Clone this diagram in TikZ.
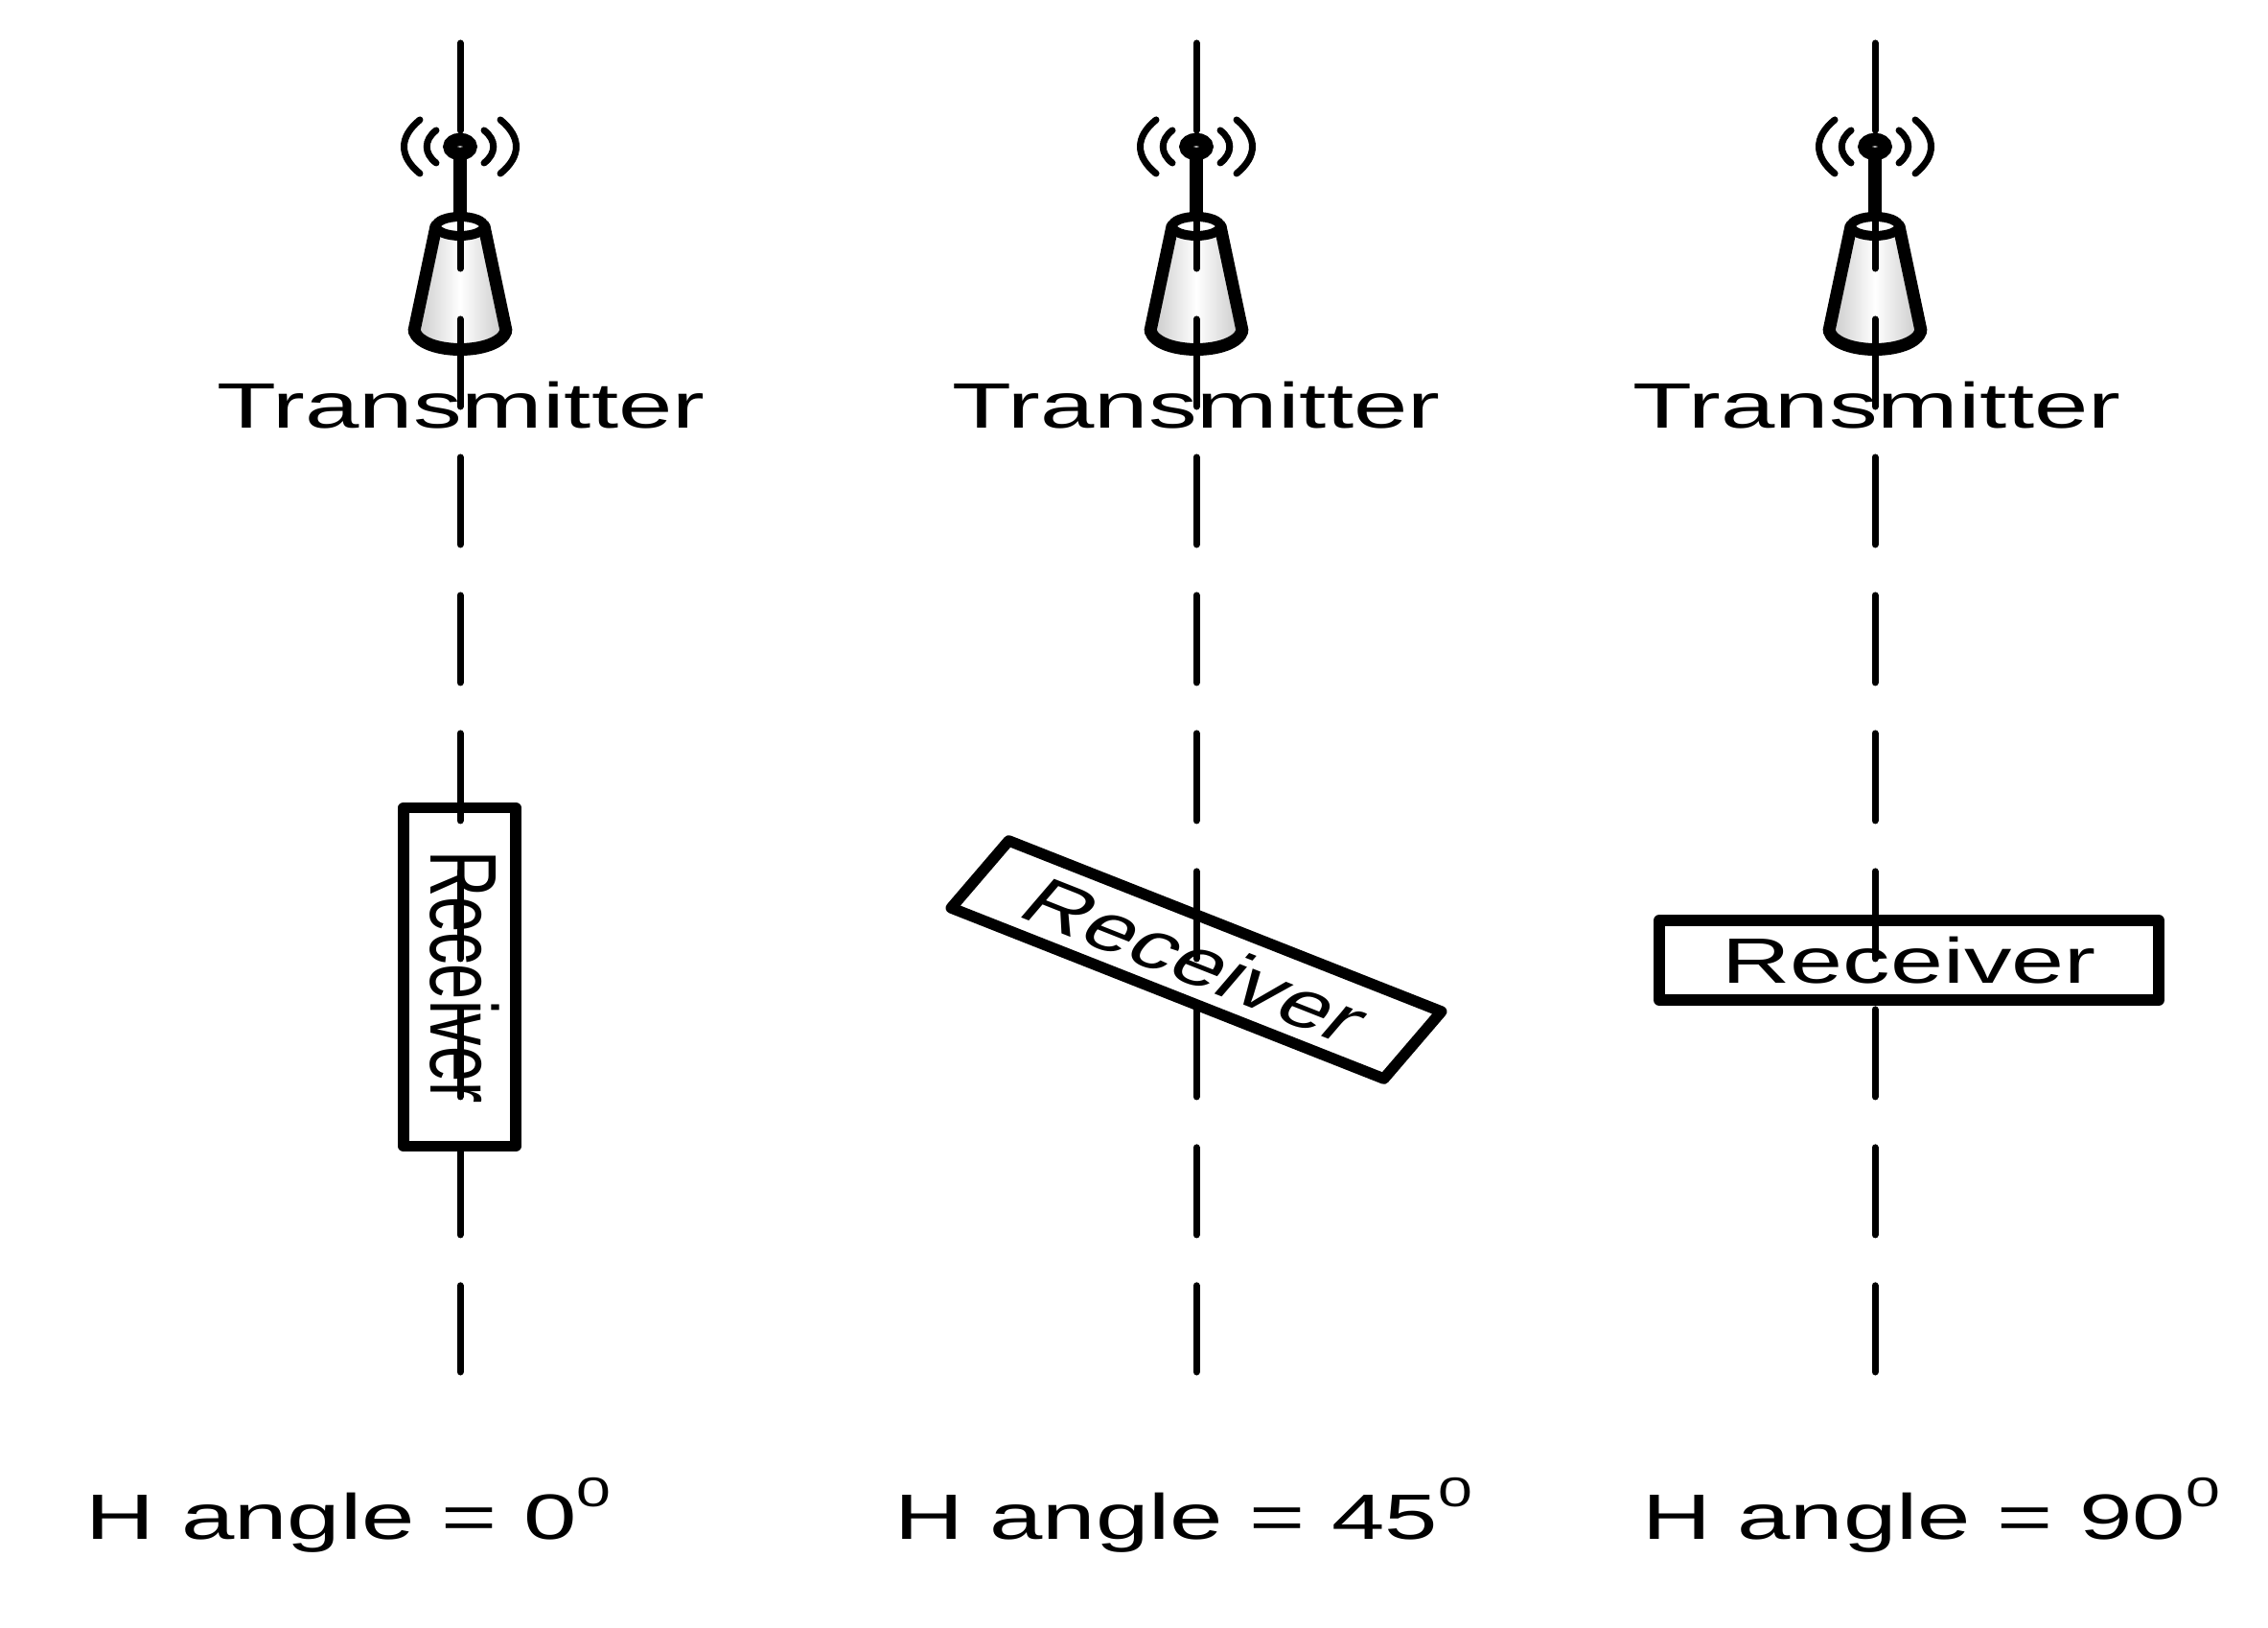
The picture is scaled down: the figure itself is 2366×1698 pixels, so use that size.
\documentclass[tikz,border=0pt]{standalone}
\usepackage{fontspec}
\setmainfont{Liberation Sans}
\usetikzlibrary{positioning}
\newcommand{\anglesup}[1]{\raisebox{9.4pt}{\fontsize{12.3}{14}\selectfont #1}}

\begin{document}
\begin{tikzpicture}[x=0.01cm,y=-0.01cm]
	\tikzset{txlabel/.style = {font=\fontsize{19}{23}\selectfont, inner sep = 0pt, transform shape}}
	\tikzset{anglelabel/.style = {txlabel, anchor=base west}}
	\tikzset{rxbox/.style = {shape=rectangle, draw, line width=0.115cm, line join=round,
			font=\fontsize{19}{23}\selectfont, inner sep = 0pt, outer sep = 0pt, transform shape}}
	\tikzset{beamline/.style = {line width=0.07cm, line cap=round, dash pattern=on 0.91cm off 0.529cm}}
	\tikzset{wave/.style = {line width=0.07cm, line cap=round}}
	\tikzset{antenna/.pic = {
			\draw[line width=0.13cm, line join=round, left color=black!22, right color=black!22, middle color=white]
				(-25,83) -- (-48,192) .. controls (-40,218) and (40,218) .. (48,192) -- (25,83) -- cycle;
			\draw[line width=0.1cm, fill=white] (0,83) ellipse[x radius=25, y radius=10];
			\draw[line width=0.14cm] (0,8) -- (0,73);
			\draw[line width=0.135cm] (0,0) ellipse[x radius=11, y radius=7.5];
			\draw[wave] (-25,-17) .. controls (-38,-7) and (-38,7) .. (-25,17);
			\draw[wave] (25,-17) .. controls (38,-7) and (38,7) .. (25,17);
			\draw[wave] (-42,-28) .. controls (-64,-10) and (-64,10) .. (-42,28);
			\draw[wave] (42,-28) .. controls (64,-10) and (64,10) .. (42,28);
	}}

	\useasboundingbox (0,0) rectangle (2366,1698);

	% antennas
	\pic at (480,153) {antenna};
	\pic at (1248,153) {antenna};
	\pic at (1956,153) {antenna};

	% transmitter labels
	\node[txlabel, shift={(481,422.5)}, xscale=1.517] (t1) at (0,0) {Transmitter};
	\node[txlabel, shift={(1248,422.5)}, xscale=1.517] (t2) at (0,0) {Transmitter};
	\node[txlabel, shift={(1958,422.5)}, xscale=1.517] (t3) at (0,0) {Transmitter};

	% receivers
	\node[rxbox, minimum width=3.53cm, minimum height=0.79cm, text depth=0.08cm,
		shift={(479.5,1019)}, xscale=1.48, rotate=-90] (r1) at (0,0) {Receiver};
	\node[rxbox, minimum width=3.47cm, minimum height=0.8cm,
		shift={(1248,1001)}, cm={1.3,-0.513,0.75,0.875,(0,0)}] (r2) at (0,0) {Receiver};
	\node[rxbox, minimum width=3.52cm, minimum height=0.83cm,
		shift={(1991.5,1001.5)}, xscale=1.48] (r3) at (0,0) {Receiver};

	% angle labels
	\node[anglelabel, shift={(88.5,1605)}, xscale=1.49] (h1) at (0,0) {H angle = 0\anglesup{0}};
	\node[anglelabel, shift={(932,1605)}, xscale=1.49] (h2) at (0,0) {H angle = 45\anglesup{0}};
	\node[anglelabel, shift={(1712,1605)}, xscale=1.49] (h3) at (0,0) {H angle = 90\anglesup{0}};

	% line ends
	\coordinate (a1) at (480,45);
	\coordinate (b1) at (480,1431);
	\coordinate (a2) at (1248,45);
	\coordinate (b2) at (1248,1431);
	\coordinate (a3) at (1956,45);
	\coordinate (b3) at (1956,1431);

	%lines
	\draw[beamline] (a1) to (b1);
	\draw[beamline] (a2) to (b2);
	\draw[beamline] (a3) to (b3);
\end{tikzpicture}
\end{document}
